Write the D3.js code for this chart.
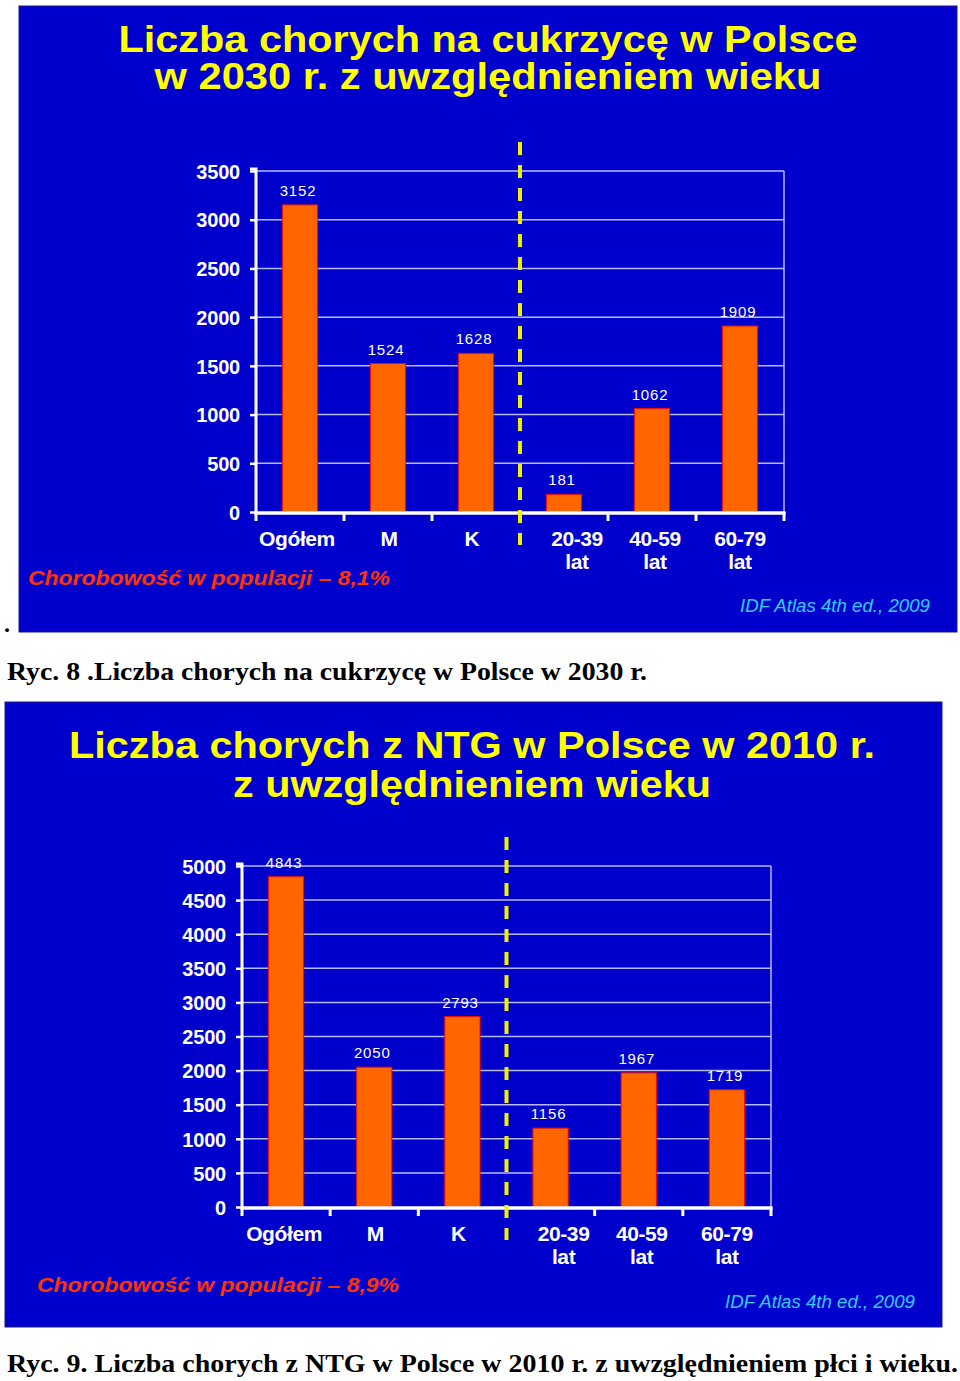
<!DOCTYPE html>
<html>
<head>
<meta charset="utf-8">
<script src="https://cdn.jsdelivr.net/npm/d3@7/dist/d3.min.js"></script>
<style>
  html, body { margin: 0; padding: 0; background: #ffffff; }
  svg { display: block; }
</style>
</head>
<body>
<script>
// ---------- data ----------
const categories = ["Ogółem", "M", "K", "20-39 lat", "40-59 lat", "60-79 lat"];
const categoryLines = [["Ogółem"], ["M"], ["K"], ["20-39", "lat"], ["40-59", "lat"], ["60-79", "lat"]];
const values2030 = [3152, 1524, 1628, 181, 1062, 1909];
const values2010 = [4843, 2050, 2793, 1156, 1967, 1719];
const ticks2030 = [0, 500, 1000, 1500, 2000, 2500, 3000, 3500];
const ticks2010 = [0, 500, 1000, 1500, 2000, 2500, 3000, 3500, 4000, 4500, 5000];
const titles2030 = ["Liczba chorych na cukrzycę w Polsce", "w 2030 r. z uwzględnieniem wieku"];
const titles2010 = ["Liczba chorych z NTG w Polsce w 2010 r.", "z uwzględnieniem wieku"];
const prevalence2030 = "Chorobowość w populacji – 8,1%";
const prevalence2010 = "Chorobowość w populacji – 8,9%";
const sourceText = "IDF Atlas 4th ed., 2009";
const caption2030 = "Ryc. 8 .Liczba chorych na cukrzycę w Polsce w 2030 r.";
const caption2010 = "Ryc. 9. Liczba chorych z NTG w Polsce w 2010 r.  z uwzględnieniem płci i wieku.";

// ---------- drawing ----------
const W = 960, H = 1381;
const svg = d3.select("body").append("svg").attr("width", W).attr("height", H);
svg.append("rect").attr("width", W).attr("height", H).attr("fill", "#ffffff");

const BLUE = "#0000cc";
const SANS = "'Liberation Sans', Arial, sans-serif";
const SERIF = "'Liberation Serif', 'Times New Roman', serif";

function drawPanel(cfg) {
  const g = svg.append("g");
  // background
  g.append("rect")
    .attr("x", cfg.bg[0]).attr("y", cfg.bg[1])
    .attr("width", cfg.bg[2]).attr("height", cfg.bg[3])
    .attr("fill", BLUE).attr("stroke", "#1a1a80").attr("stroke-width", 1);

  // title
  cfg.titles.forEach((t, i) => {
    g.append("text")
      .attr("x", cfg.titleX).attr("y", cfg.titleY[i])
      .attr("text-anchor", "middle")
      .attr("font-family", SANS).attr("font-weight", "bold")
      .attr("font-size", 37).attr("fill", "#ffff00")
      .attr("textLength", cfg.titleLen[i]).attr("lengthAdjust", "spacingAndGlyphs")
      .text(t);
  });

  const x = d3.scaleBand().domain(categories)
    .range([cfg.left, cfg.right]).paddingInner(0.6).paddingOuter(0.3);
  const xb = d3.scaleLinear().domain([0, categories.length]).range([cfg.left, cfg.right]);
  const yMax = cfg.ticks[cfg.ticks.length - 1];
  const y = d3.scaleLinear().domain([0, yMax]).range([cfg.bottom, cfg.top]);

  // gridlines
  g.append("g").selectAll("line").data(cfg.ticks.filter(d => d > 0)).join("line")
    .attr("x1", cfg.left).attr("x2", cfg.right)
    .attr("y1", d => y(d)).attr("y2", d => y(d))
    .attr("stroke", "#b8b8ff").attr("stroke-width", 1.5);
  // right border
  g.append("line")
    .attr("x1", cfg.right).attr("x2", cfg.right)
    .attr("y1", y(yMax)).attr("y2", cfg.bottom)
    .attr("stroke", "#b8b8ff").attr("stroke-width", 1.5);

  // bars
  g.append("g").selectAll("rect").data(cfg.values).join("rect")
    .attr("x", (d, i) => x(categories[i]))
    .attr("width", x.bandwidth())
    .attr("y", d => y(d))
    .attr("height", d => cfg.bottom - y(d))
    .attr("fill", "#ff6600")
    .attr("stroke", "#e8100a").attr("stroke-width", 1);

  // value labels
  g.append("g").selectAll("text").data(cfg.values).join("text")
    .attr("x", (d, i) => x(categories[i]) + x.bandwidth() / 2 - 2)
    .attr("y", d => y(d) - 9)
    .attr("text-anchor", "middle")
    .attr("font-family", SANS).attr("font-size", 15)
    .attr("letter-spacing", 0.8)
    .attr("fill", "#ffffff")
    .text(d => d);

  // y axis
  const yAxis = d3.axisLeft(y).tickValues(cfg.ticks).tickFormat(d3.format("d"))
    .tickSize(6).tickPadding(10);
  const ya = g.append("g").attr("transform", `translate(${cfg.left},0)`).call(yAxis);
  ya.select(".domain").attr("stroke", "#ffffff").attr("stroke-width", 3)
    .attr("d", `M-6,${cfg.top - 2}H0V${cfg.bottom}`);
  ya.selectAll(".tick line").attr("stroke", "#ffffff").attr("stroke-width", 2.5);
  ya.selectAll(".tick text")
    .attr("fill", "#ffffff").attr("font-family", SANS).attr("font-weight", "bold")
    .attr("font-size", 20).attr("letter-spacing", -0.2).attr("dy", "0.36em");

  // x axis line
  g.append("line")
    .attr("x1", cfg.left - 1.5).attr("x2", cfg.right + 1.5)
    .attr("y1", cfg.bottom + 1).attr("y2", cfg.bottom + 1)
    .attr("stroke", "#ffffff").attr("stroke-width", 3.5);
  g.append("g").selectAll("line").data(d3.range(categories.length + 1)).join("line")
    .attr("x1", d => xb(d)).attr("x2", d => xb(d))
    .attr("y1", cfg.bottom).attr("y2", cfg.bottom + 9)
    .attr("stroke", "#ffffff").attr("stroke-width", 3);

  // category labels
  const cl = g.append("g").selectAll("text").data(categories).join("text")
    .attr("text-anchor", "middle")
    .attr("font-family", SANS).attr("font-weight", "bold")
    .attr("font-size", 21).attr("letter-spacing", -0.4)
    .attr("fill", "#ffffff");
  cl.each(function (c, i) {
    const cx = x(c) + x.bandwidth() / 2 + cfg.labelShift[i];
    categoryLines[i].forEach((ln, j) => {
      d3.select(this).append("tspan")
        .attr("x", cx).attr("y", cfg.bottom + 34 + j * 23).text(ln);
    });
  });

  // dashed separator
  g.append("line")
    .attr("x1", xb(3)).attr("x2", xb(3))
    .attr("y1", cfg.dashTop).attr("y2", cfg.dashBottom)
    .attr("stroke", "#f0f000").attr("stroke-width", 4)
    .attr("stroke-dasharray", "13,10");

  // prevalence
  g.append("text")
    .attr("x", cfg.prevX).attr("y", cfg.prevY)
    .attr("font-family", SANS).attr("font-weight", "bold").attr("font-style", "italic")
    .attr("font-size", 21).attr("fill", "#ff3300")
    .attr("textLength", 362).attr("lengthAdjust", "spacingAndGlyphs")
    .text(cfg.prevalence);

  // source
  g.append("text")
    .attr("x", cfg.srcX).attr("y", cfg.srcY)
    .attr("font-family", SANS).attr("font-style", "italic")
    .attr("font-size", 18).attr("fill", "#33ccff")
    .attr("textLength", 190).attr("lengthAdjust", "spacingAndGlyphs")
    .text(sourceText);

  // caption
  g.append("text")
    .attr("x", 7).attr("y", cfg.capY)
    .attr("font-family", SERIF).attr("font-weight", "bold")
    .attr("font-size", 25).attr("fill", "#000000")
    .attr("textLength", cfg.capLen).attr("lengthAdjust", "spacingAndGlyphs")
    .text(cfg.caption);
}

drawPanel({
  bg: [19, 6, 938, 626],
  titles: titles2030, titleX: 488, titleY: [52, 89], titleLen: [739, 667],
  left: 256, right: 784, top: 171, bottom: 512,
  values: values2030, ticks: ticks2030,
  labelShift: [-3, 1, -4, 13, 3, 0],
  dashTop: 142, dashBottom: 545,
  prevalence: prevalence2030, prevX: 28, prevY: 585,
  srcX: 740, srcY: 612,
  caption: caption2030, capY: 680, capLen: 640
});

drawPanel({
  bg: [5, 702, 937, 625],
  titles: titles2010, titleX: 472, titleY: [758, 797], titleLen: [806, 478],
  left: 242, right: 771, top: 866, bottom: 1207,
  values: values2010, ticks: ticks2010,
  labelShift: [-2, 1, -4, 13, 3, 0],
  dashTop: 837, dashBottom: 1240,
  prevalence: prevalence2010, prevX: 37, prevY: 1292,
  srcX: 725, srcY: 1308,
  caption: caption2010, capY: 1372, capLen: 951
});

// stray bullet before first figure
svg.append("text").attr("x", 4).attr("y", 632)
  .attr("font-family", SERIF).attr("font-weight", "bold").attr("font-size", 24)
  .attr("fill", "#000").text(".");
</script>
</body>
</html>
